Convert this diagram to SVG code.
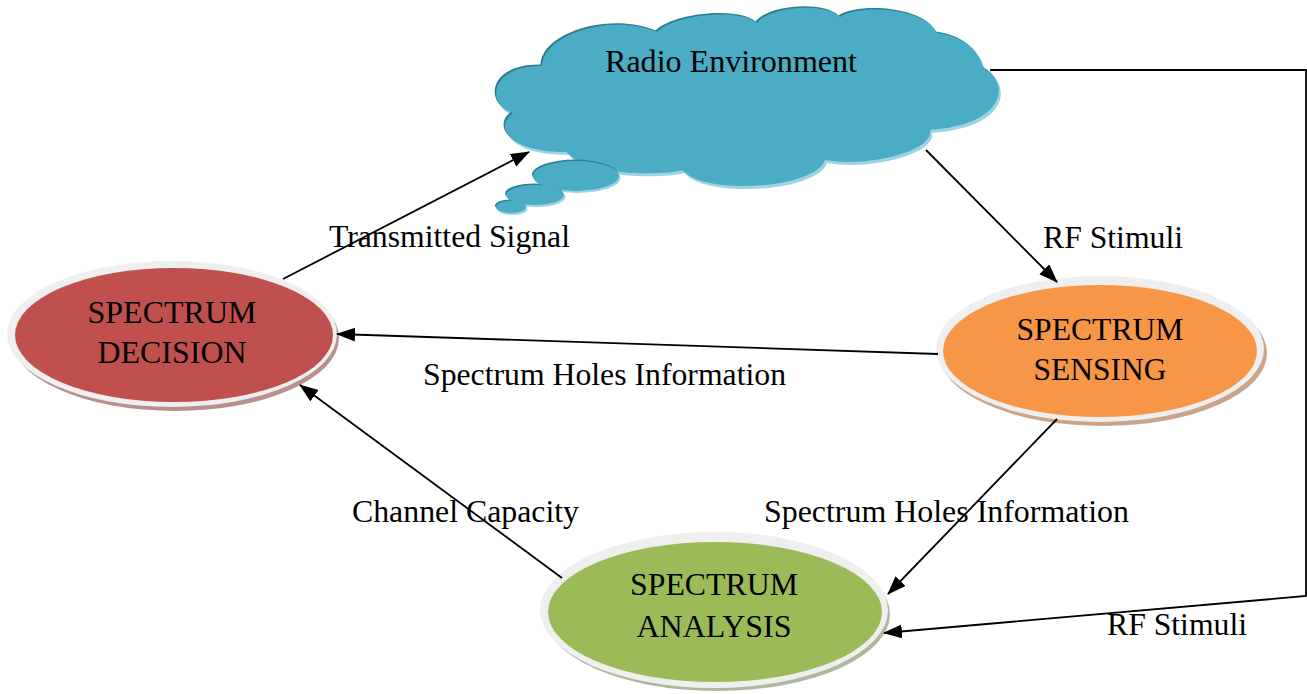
<svg xmlns="http://www.w3.org/2000/svg" width="1307" height="694" viewBox="0 0 1307 694">
<defs>
<style>
text{font-family:"Liberation Serif","Times New Roman",serif;font-size:31px;fill:#000}
.mid{text-anchor:middle}
.conn{fill:none;stroke:#000;stroke-width:1.8}
.ring{fill:#EFEFEF}
</style>
<marker id="ah" markerUnits="userSpaceOnUse" markerWidth="20" markerHeight="16" refX="18" refY="7" orient="auto">
<path d="M0,0 L19,7 L0,14 Z" fill="#000"/>
</marker>
<path id="cloudShape" d="M542,66 C543,34 612,13 657,32 C675,14 740,8 757,23 C770,6 825,2 840,17 C858,4 925,7 937,33 C962,36 980,50 983,68 C1008,78 1012,124 930,130 C935,150 870,168 825,160 C815,190 700,195 683,170 C660,176 585,176 567,152 C505,152 495,125 513,113 C485,105 490,65 542,66 Z"/>
<g id="bubbleShapes">
<ellipse cx="576" cy="176" rx="43" ry="15"/>
<ellipse cx="535" cy="195" rx="29" ry="10"/>
<ellipse cx="511" cy="207" rx="15" ry="6"/>
</g>
</defs>
<rect width="1307" height="694" fill="#fff"/>

<g id="radio-environment">
<use href="#cloudShape" transform="translate(2,3)" fill="#9ED3E2"/>
<use href="#cloudShape" transform="translate(-1.5,-1.5)" fill="#2F7D92"/>
<use href="#cloudShape" fill="#4BACC6"/>
<use href="#bubbleShapes" transform="translate(1.5,2)" fill="#9ED3E2"/>
<use href="#bubbleShapes" transform="translate(-1,-1.5)" fill="#2F7D92"/>
<use href="#bubbleShapes" fill="#4BACC6"/>
<text x="731" y="72" class="mid" textLength="252" lengthAdjust="spacingAndGlyphs">Radio Environment</text>
</g>

<g id="spectrum-decision">
<ellipse cx="175" cy="338" rx="164" ry="73" fill="#B8908E"/>
<ellipse cx="172" cy="334" rx="165" ry="73" class="ring"/>
<ellipse cx="174" cy="335" rx="159" ry="67" fill="#C0504D"/>
<text x="172" y="323" class="mid" textLength="169" lengthAdjust="spacingAndGlyphs">SPECTRUM</text>
<text x="172" y="363" class="mid" textLength="149" lengthAdjust="spacingAndGlyphs">DECISION</text>
</g>

<g id="spectrum-sensing">
<ellipse cx="1103" cy="353" rx="164" ry="73" fill="#C9A488"/>
<ellipse cx="1100" cy="349" rx="164" ry="73" class="ring"/>
<ellipse cx="1100" cy="351" rx="157" ry="66" fill="#F79646"/>
<text x="1100" y="340" class="mid" textLength="167" lengthAdjust="spacingAndGlyphs">SPECTRUM</text>
<text x="1100" y="380" class="mid" textLength="133" lengthAdjust="spacingAndGlyphs">SENSING</text>
</g>

<g id="spectrum-analysis">
<ellipse cx="717" cy="614" rx="173" ry="77" fill="#ADB89F"/>
<ellipse cx="714" cy="610" rx="174" ry="78" class="ring"/>
<ellipse cx="715" cy="612" rx="167" ry="70" fill="#9BBB59"/>
<text x="714" y="595" class="mid" textLength="168" lengthAdjust="spacingAndGlyphs">SPECTRUM</text>
<text x="714" y="637" class="mid" textLength="155" lengthAdjust="spacingAndGlyphs">ANALYSIS</text>
</g>

<g id="connectors">
<line class="conn" x1="283" y1="279" x2="529" y2="152" marker-end="url(#ah)"/>
<line class="conn" x1="926" y1="150" x2="1057" y2="282" marker-end="url(#ah)"/>
<line class="conn" x1="938" y1="354" x2="337" y2="334" marker-end="url(#ah)"/>
<line class="conn" x1="562" y1="578" x2="300" y2="385" marker-end="url(#ah)"/>
<line class="conn" x1="1057" y1="419" x2="888" y2="594" marker-end="url(#ah)"/>
<polyline class="conn" points="990,70 1306,70 1306,596 884,633" marker-end="url(#ah)"/>
</g>

<g id="labels">
<text x="329" y="247" textLength="241" lengthAdjust="spacingAndGlyphs">Transmitted Signal</text>
<text x="1043" y="248" textLength="140" lengthAdjust="spacingAndGlyphs">RF Stimuli</text>
<text x="423" y="385" textLength="363" lengthAdjust="spacingAndGlyphs">Spectrum Holes Information</text>
<text x="352" y="522" textLength="227" lengthAdjust="spacingAndGlyphs">Channel Capacity</text>
<text x="764" y="522" textLength="365" lengthAdjust="spacingAndGlyphs">Spectrum Holes Information</text>
<text x="1107" y="635" textLength="140" lengthAdjust="spacingAndGlyphs">RF Stimuli</text>
</g>
</svg>
